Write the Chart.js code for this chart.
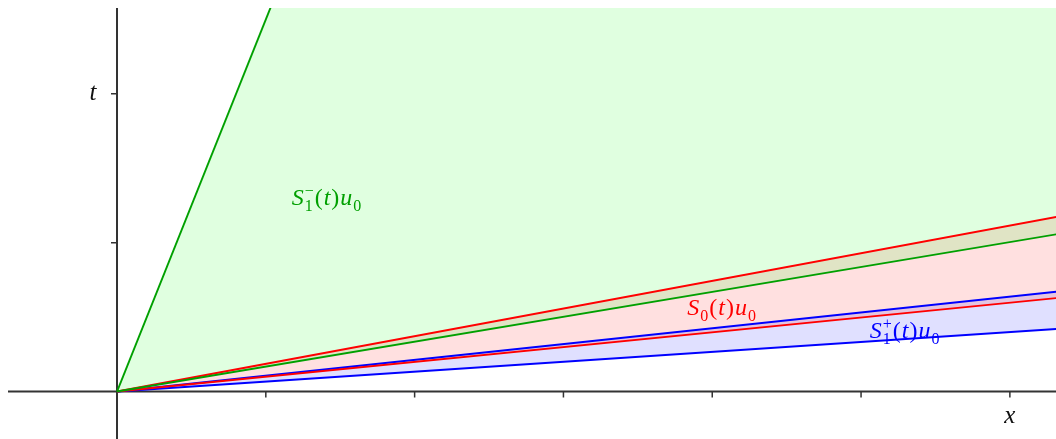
<!DOCTYPE html>
<html>
<head>
    <meta charset="UTF-8">
    <title>Solution cones</title>
    <script src="https://cdn.jsdelivr.net/npm/chart.js"></script>
    <style>
        html, body { margin: 0; padding: 0; background: #fff; }
        #wrap { width: 1056px; height: 439px; position: relative; }
    </style>
</head>
<body>
    <div id="wrap">
        <canvas id="coneChart"></canvas>
    </div>

    <script>
        // each ray starts at the origin, end points (x = 8)
        const rayX = [0, 8];
        const greenSteepT = [0, 20.0];
        const greenLowerT = [0, 1.339];
        const redUpperT = [0, 1.487];
        const redLowerT = [0, 0.796];
        const blueUpperT = [0, 0.850];
        const blueLowerT = [0, 0.533];

        // axis ticks
        const xTicks = [1, 2, 3, 4, 5, 6];
        const tTicks = [1, 2];
        const xAxisLabel = { value: 6, text: 'x' };
        const tAxisLabel = { value: 2, text: 't' };

        // curve labels: anchor (centre x, baseline t), colour, sub/superscript
        const curveLabels = [
            { x: 1.411, t: 1.253, color: '#00a000', sub: '1', sup: '\u2212' },
            { x: 4.066, t: 0.514, color: '#ff0000', sub: '0', sup: '' },
            { x: 5.296, t: 0.360, color: '#0000ff', sub: '1', sup: '+' }
        ];

        const GREEN = '#00a000', RED = '#ff0000', BLUE = '#0000ff';
        const serif = '"Liberation Serif", "DejaVu Serif", serif';

        function pts(ts) {
            return rayX.map((x, i) => ({ x: x, y: ts[i] }));
        }

        function ray(ts, color, fill, bg) {
            return {
                data: pts(ts),
                borderColor: color,
                borderWidth: 1.9,
                pointRadius: 0,
                tension: 0,
                fill: fill,
                backgroundColor: bg
            };
        }

        // axes through the origin with tick marks, drawn from the scales
        const axesPlugin = {
            id: 'axes',
            beforeDatasetsDraw(chart) {
                const ctx = chart.ctx, a = chart.chartArea;
                const sx = chart.scales.x, sy = chart.scales.y;
                const x0 = sx.getPixelForValue(0), y0 = sy.getPixelForValue(0);
                ctx.save();
                ctx.strokeStyle = '#333';
                ctx.lineWidth = 2;
                ctx.beginPath();
                ctx.moveTo(a.left, y0); ctx.lineTo(a.right, y0);
                ctx.moveTo(x0, a.top); ctx.lineTo(x0, a.bottom);
                ctx.stroke();
                ctx.lineWidth = 1.5;
                ctx.beginPath();
                xTicks.forEach(v => {
                    const px = sx.getPixelForValue(v);
                    ctx.moveTo(px, y0); ctx.lineTo(px, y0 + 6);
                });
                tTicks.forEach(v => {
                    const py = sy.getPixelForValue(v);
                    ctx.moveTo(x0, py); ctx.lineTo(x0 - 6, py);
                });
                ctx.stroke();
                ctx.fillStyle = '#111';
                ctx.font = 'italic 25px ' + serif;
                ctx.textAlign = 'center';
                ctx.textBaseline = 'middle';
                ctx.fillText(xAxisLabel.text, sx.getPixelForValue(xAxisLabel.value), y0 + 25);
                ctx.fillText(tAxisLabel.text, x0 - 24, sy.getPixelForValue(tAxisLabel.value));
                ctx.restore();
            },
            afterDatasetsDraw(chart) {
                const ctx = chart.ctx;
                const sx = chart.scales.x, sy = chart.scales.y;
                const big = 24, small = 16;
                curveLabels.forEach(l => {
                    // S, stacked sub/sup, (t), u, sub 0
                    const parts = [
                        { s: 'S', f: 'italic ' + big + 'px ' + serif, dy: 0 },
                        { s: l.sub, f: small + 'px ' + serif, dy: 6, sup: l.sup },
                        { s: '(', f: big + 'px ' + serif, dy: 0 },
                        { s: 't', f: 'italic ' + big + 'px ' + serif, dy: 0 },
                        { s: ')', f: big + 'px ' + serif, dy: 0 },
                        { s: 'u', f: 'italic ' + big + 'px ' + serif, dy: 0 },
                        { s: '0', f: small + 'px ' + serif, dy: 6 }
                    ];
                    ctx.save();
                    let total = 0;
                    parts.forEach(p => {
                        ctx.font = p.f;
                        let w = ctx.measureText(p.s).width;
                        if (p.sup) { w = Math.max(w, ctx.measureText(p.sup).width); }
                        p.w = w + 1;
                        total += p.w;
                    });
                    let px = sx.getPixelForValue(l.x) - total / 2;
                    const base = sy.getPixelForValue(l.t);
                    ctx.fillStyle = l.color;
                    ctx.textAlign = 'left';
                    ctx.textBaseline = 'alphabetic';
                    parts.forEach(p => {
                        ctx.font = p.f;
                        ctx.fillText(p.s, px, base + p.dy);
                        if (p.sup) { ctx.fillText(p.sup, px, base - 9); }
                        px += p.w;
                    });
                    ctx.restore();
                });
            }
        };

        const ctx = document.getElementById('coneChart').getContext('2d');
        new Chart(ctx, {
            type: 'line',
            data: {
                datasets: [
                    ray(greenSteepT, GREEN, { target: 1 }, 'rgba(0,255,0,0.12)'),
                    ray(greenLowerT, GREEN, false, 'transparent'),
                    ray(redUpperT, RED, { target: 3 }, 'rgba(255,0,0,0.12)'),
                    ray(redLowerT, RED, false, 'transparent'),
                    ray(blueUpperT, BLUE, { target: 5 }, 'rgba(0,0,255,0.12)'),
                    ray(blueLowerT, BLUE, false, 'transparent')
                ]
            },
            options: {
                responsive: true,
                maintainAspectRatio: false,
                animation: false,
                layout: { padding: { left: 8, top: 8, right: 0, bottom: 0 } },
                scales: {
                    x: { type: 'linear', min: -0.7325, max: 6.310, display: false },
                    y: { type: 'linear', min: -0.319, max: 2.577, display: false }
                },
                plugins: {
                    legend: { display: false },
                    tooltip: { enabled: false },
                    filler: { drawTime: 'beforeDatasetsDraw' }
                }
            },
            plugins: [axesPlugin]
        });
    </script>
</body>
</html>
